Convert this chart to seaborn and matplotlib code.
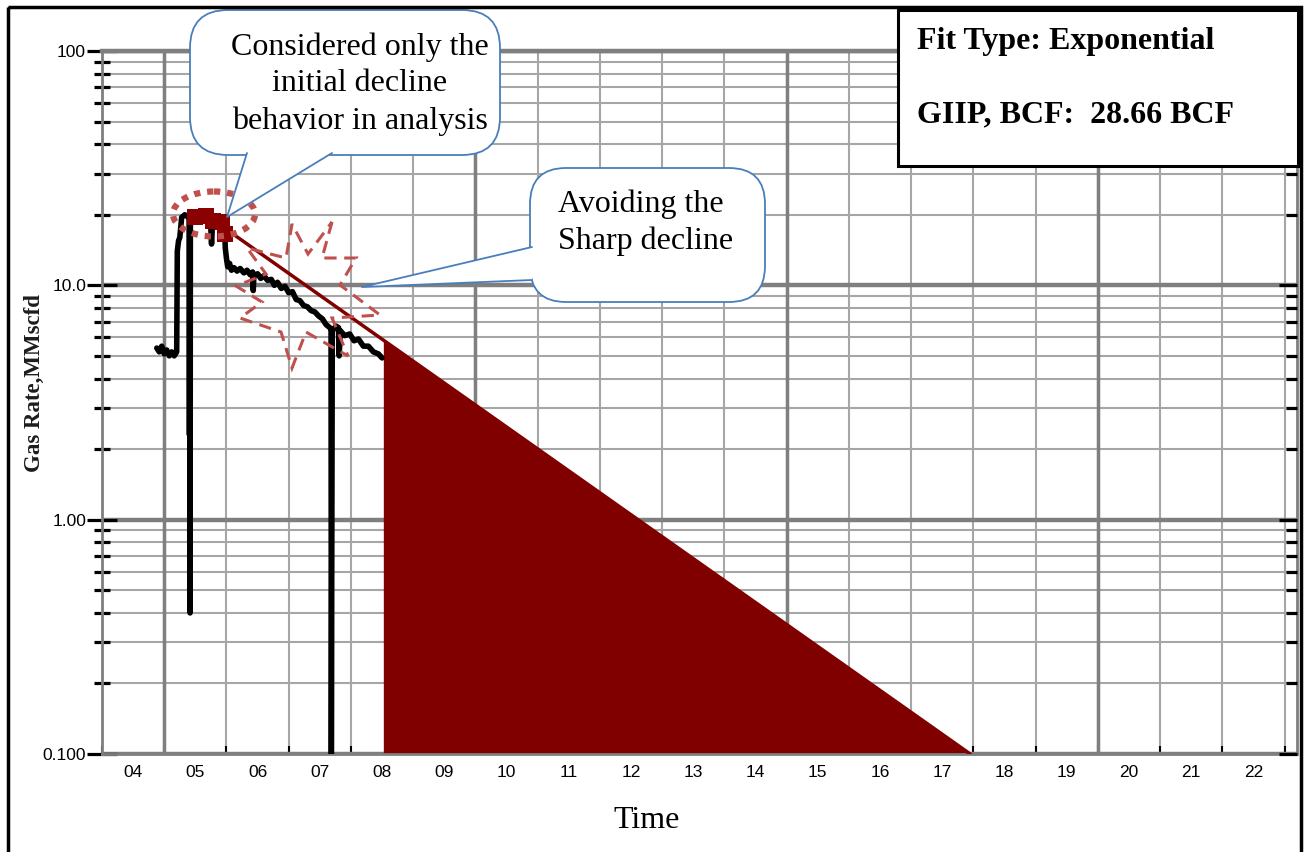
import matplotlib
matplotlib.use("Agg")
import matplotlib.pyplot as plt
import seaborn as sns
import pandas as pd
from matplotlib.patches import FancyBboxPatch, Polygon, Ellipse, Rectangle
from matplotlib.lines import Line2D
from matplotlib.transforms import Affine2D
from matplotlib.ticker import LogLocator, NullFormatter

# measured gas rate (MMscfd) vs time (decimal year)
gas_year = [2004.88, 2004.92, 2004.96, 2005.00, 2005.04, 2005.08, 2005.12, 2005.16, 2005.20,
            2005.21, 2005.23, 2005.25, 2005.28, 2005.33, 2005.38, 2005.40, 2005.405, 2005.41,
            2005.415, 2005.42, 2005.45, 2005.55, 2005.65, 2005.74, 2005.76, 2005.78, 2005.86,
            2005.94, 2005.97, 2005.98, 2006.00, 2006.02, 2006.05, 2006.08, 2006.12, 2006.17,
            2006.22, 2006.28, 2006.33, 2006.38, 2006.42, 2006.43, 2006.44, 2006.50, 2006.55,
            2006.60, 2006.66, 2006.72, 2006.77, 2006.82, 2006.88, 2006.94, 2007.00, 2007.06,
            2007.12, 2007.18, 2007.24, 2007.30, 2007.36, 2007.42, 2007.48, 2007.54, 2007.60,
            2007.66, 2007.68, 2007.685, 2007.70, 2007.76, 2007.80, 2007.81, 2007.83, 2007.90,
            2007.98, 2008.05, 2008.12, 2008.20, 2008.28, 2008.36, 2008.44, 2008.50]
gas_rate = [5.4, 5.2, 5.5, 5.1, 5.3, 5.0, 5.2, 5.0, 5.2,
            14.0, 15.5, 16.0, 19.5, 20.0, 19.6, 20.0, 2.3, 19.8,
            0.40, 19.8, 20.0, 20.1, 19.6, 19.8, 15.0, 19.5, 19.2,
            19.4, 18.5, 14.5, 13.0, 12.0, 12.4, 11.6, 11.9, 11.5,
            11.8, 11.3, 11.6, 11.1, 11.4, 9.5, 11.0, 11.2, 10.7,
            11.0, 10.5, 10.6, 10.0, 10.3, 9.7, 9.9, 9.3, 9.4,
            8.7, 8.6, 8.2, 8.1, 7.8, 7.7, 7.4, 7.2, 6.8,
            6.6, 6.5, 0.1, 6.4, 6.7, 6.6, 5.0, 6.4, 6.1,
            6.2, 5.8, 5.9, 5.5, 5.5, 5.2, 5.1, 4.9]

# points picked for the fit
pick_year = [2005.49, 2005.67, 2005.78, 2005.92, 2005.98]
pick_rate = [19.5, 19.7, 18.9, 18.6, 16.5]

# exponential fit / forecast
fit_year = [2005.95, 2008.52, 2017.95]
fit_rate = [17.7, 5.84, 0.1]

year_edges = list(range(2004, 2024))
bold_years = [2005, 2010, 2015, 2020]
x_labels = ["04", "05", "06", "07", "08", "09", "10", "11", "12", "13",
            "14", "15", "16", "17", "18", "19", "20", "21", "22"]
y_major = [0.1, 1, 10, 100]
y_labels = ["0.100", "1.00", "10.0", "100"]

sns.set_style("white")
plt.rcParams['font.family'] = ['Liberation Sans', 'DejaVu Sans']
plt.rcParams['text.color'] = 'black'
plt.rcParams['axes.labelcolor'] = 'black'
plt.rcParams['xtick.color'] = 'black'
plt.rcParams['ytick.color'] = 'black'
serif = ['Liberation Serif', 'DejaVu Serif']

W, H = 1308, 852
fig = plt.figure(figsize=(W / 100, H / 100), dpi=100)
# pixel coords, origin top-left
px = Affine2D().scale(1 / 100, -1 / 100).translate(0, H / 100) + fig.dpi_scale_trans

ax = fig.add_axes([102 / W, 1 - 754 / H, 1195 / W, 703 / H])
ax.set_yscale('log')
ax.set_axisbelow(True)

ax.fill_between(fit_year[1:], fit_rate[1:], y_major[0], color='#800000', lw=0, zorder=2)
sns.lineplot(x=fit_year, y=fit_rate, color='#800000', lw=2.5, estimator=None, sort=False,
             ax=ax, zorder=3)
gas = pd.DataFrame({'year': gas_year, 'rate': gas_rate})
sns.lineplot(data=gas, x='year', y='rate', color='black', lw=4, estimator=None, sort=False,
             ax=ax, zorder=3)
sns.scatterplot(x=pick_year, y=pick_rate, marker='s', s=130, color='#8b0000',
                edgecolor='#8b0000', linewidth=0, ax=ax, zorder=4)

ax.set_xlim(2004, 2023.2)
ax.set_ylim(0.1, 100)

ax.set_xticks(year_edges)
ax.set_xticks([y + 0.5 for y in range(2004, 2023)], labels=x_labels, minor=True)
ax.tick_params(axis='x', which='major', direction='in', length=6, width=1.5,
               labelbottom=False, bottom=True, top=False)
ax.tick_params(axis='x', which='minor', length=0, pad=8, labelsize=12.5)

ax.set_yticks(y_major, labels=y_labels)
ax.yaxis.set_minor_locator(LogLocator(base=10, subs=range(2, 10)))
ax.yaxis.set_minor_formatter(NullFormatter())
ax.tick_params(axis='y', which='major', direction='inout', length=21, width=2.3,
               left=True, right=False, labelsize=12.5, pad=1)
ax.tick_params(axis='y', which='minor', direction='inout', length=12, width=2.3,
               left=True, right=False)

ax.xaxis.grid(True, which='major', color='#a6a6a6', lw=1.5)
ax.yaxis.grid(True, which='major', color='#7f7f7f', lw=3.2)
ax.yaxis.grid(True, which='minor', color='#a6a6a6', lw=1.5)
for yr in bold_years:
    ax.axvline(yr, color='#7f7f7f', lw=2.5, zorder=0.6)

for s in ax.spines.values():
    s.set_color('#7f7f7f')
    s.set_linewidth(2)
ax.spines['top'].set_linewidth(3.2)

# right-hand ticks pointing inwards
ax2 = ax.twinx()
ax2.set_yscale('log')
ax2.set_ylim(ax.get_ylim())
ax2.set_yticks(y_major)
ax2.yaxis.set_minor_locator(LogLocator(base=10, subs=range(2, 10)))
ax2.yaxis.set_major_formatter(NullFormatter())
ax2.yaxis.set_minor_formatter(NullFormatter())
ax2.tick_params(axis='y', which='major', direction='in', length=13, width=2.3, labelright=False)
ax2.tick_params(axis='y', which='minor', direction='in', length=8, width=2.3)
for s in ax2.spines.values():
    s.set_visible(False)

ax.set_xlabel('Time', family=serif, fontsize=23)
ax.xaxis.set_label_coords(0.456, -0.074)
ax.set_ylabel('Gas Rate,MMscfd', family=serif, fontweight='bold', fontsize=16.5,
              color='#1c1c1c')
ax.yaxis.set_label_coords(-0.048, 0.528)

blue = '#4a7ebb'
red = '#c0504d'


def callout(x0, y0, x1, y1, base, tip, radius):
    box = FancyBboxPatch((x0, y0), x1 - x0, y1 - y0,
                         boxstyle=f"round,pad=0,rounding_size={radius}",
                         fc='white', ec=blue, lw=1.3, transform=px, zorder=6)
    fig.patches.append(box)
    fig.patches.append(Polygon([base[0], tip, base[1]], closed=True, fc='white', ec='none',
                               transform=px, zorder=6.1))
    fig.lines.append(Line2D([base[0][0], tip[0], base[1][0]], [base[0][1], tip[1], base[1][1]],
                            color=blue, lw=1.3, transform=px, zorder=6.2))


# callout 1
callout(190, 10, 500, 155, [(247, 153), (332, 153)], (227, 217), 38)
fig.text(360, 84, "Considered only the\ninitial decline\nbehavior in analysis",
         transform=px, ha='center', va='center', family=serif, fontsize=23,
         linespacing=1.35, zorder=7)

# callout 2
callout(530, 168, 765, 302, [(532, 247), (532, 280)], (362, 287), 36)
fig.text(558, 223, "Avoiding the\nSharp decline", transform=px, ha='left', va='center',
         family=serif, fontsize=23, linespacing=1.35, zorder=7)

# dotted ellipse around picked points
fig.patches.append(Ellipse((214, 214), 82, 45, fc='none', ec=red, lw=4.5,
                           linestyle=(0, (1, 1.1)), transform=px, zorder=5))

# dashed starburst
star = [(332, 222), (322, 258), (356, 258), (340, 285), (380, 315), (332, 318),
        (348, 356), (306, 332), (292, 368), (281, 332), (240, 318), (262, 302),
        (236, 286), (266, 274), (247, 248), (286, 258), (292, 224), (308, 254)]
fig.patches.append(Polygon(star, closed=True, fc='none', ec=red, lw=2.2,
                           linestyle=(0, (4, 2.5)), transform=px, zorder=5))

# fit info box
fig.patches.append(Rectangle((898, 10), 400, 156, fc='white', ec='black', lw=2.2,
                             transform=px, zorder=6))
fig.text(917, 42, "Fit Type: Exponential", transform=px, ha='left', va='center',
         family=serif, fontweight='bold', fontsize=23, zorder=7)
fig.text(917, 115, "GIIP, BCF:  28.66 BCF", transform=px, ha='left', va='center',
         family=serif, fontweight='bold', fontsize=23, zorder=7)

# outer frame
fig.patches.append(Rectangle((8, 7), 1293, 900, fc='none', ec='black', lw=2.5,
                             transform=px, zorder=8))

fig.savefig('out.png', dpi=100)
